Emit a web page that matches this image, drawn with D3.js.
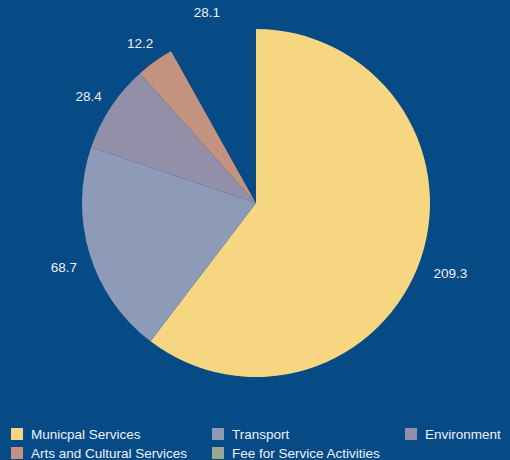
<!DOCTYPE html>
<html><head><meta charset="utf-8">
<script src="https://cdn.jsdelivr.net/npm/d3@7"></script>
<style>html,body{margin:0;padding:0;background:#064a86;}svg{display:block;}</style>
</head><body>
<script>
const categories = ["Municpal Services","Transport","Environment","Arts and Cultural Services","Fee for Service Activities"];
const values = [209.3, 68.7, 28.4, 12.2, 28.1];
const labels = ["209.3","68.7","28.4","12.2","28.1"];
const colors = ["#f6d680","#8d9bb9","#948fa9","#c3937f","#99a78e"];
const sliceFills = ["#f6d680","#8d9bb9","#948fa9","#c3937f","#064a86"];

const W = 510, H = 460, bg = "#064a86";
const cx = 256, cy = 203, R = 174, labelR = 203;
const svg = d3.select("body").append("svg").attr("width", W).attr("height", H);
svg.append("rect").attr("width", W).attr("height", H).attr("fill", bg);

const data = categories.map((c,i)=>({c, v: values[i], i}));
const pie = d3.pie().value(d=>d.v).sort(null);
const arcs = pie(data);
const arc = d3.arc().innerRadius(0).outerRadius(R);
const g = svg.append("g").attr("transform", `translate(${cx},${cy})`);
g.selectAll("path").data(arcs).join("path")
  .attr("d", arc).attr("fill", d=>sliceFills[d.data.i]);

g.selectAll("text").data(arcs).join("text")
  .attr("x", d=>{const a=(d.startAngle+d.endAngle)/2; return Math.sin(a)*labelR + 2;})
  .attr("y", d=>{const a=(d.startAngle+d.endAngle)/2; return -Math.cos(a)*labelR + 10;})
  .attr("text-anchor","middle")
  .attr("font-family","Liberation Sans, Arial, sans-serif").attr("font-size", 13.5)
  .attr("fill","#eef1f6")
  .text(d=>labels[d.data.i]);

const colX = [11, 212, 405];
const rowY = [428, 447];
const leg = svg.append("g");
categories.forEach((c,i)=>{
  const x = colX[i%3], y = rowY[Math.floor(i/3)];
  leg.append("rect").attr("x", x).attr("y", y).attr("width", 12).attr("height", 12).attr("fill", colors[i]);
  leg.append("text").attr("x", x+20).attr("y", y+10.5)
    .attr("font-family","Liberation Sans, Arial, sans-serif").attr("font-size", 13.5)
    .attr("fill","#eef1f6").text(c);
});
</script>
</body></html>
